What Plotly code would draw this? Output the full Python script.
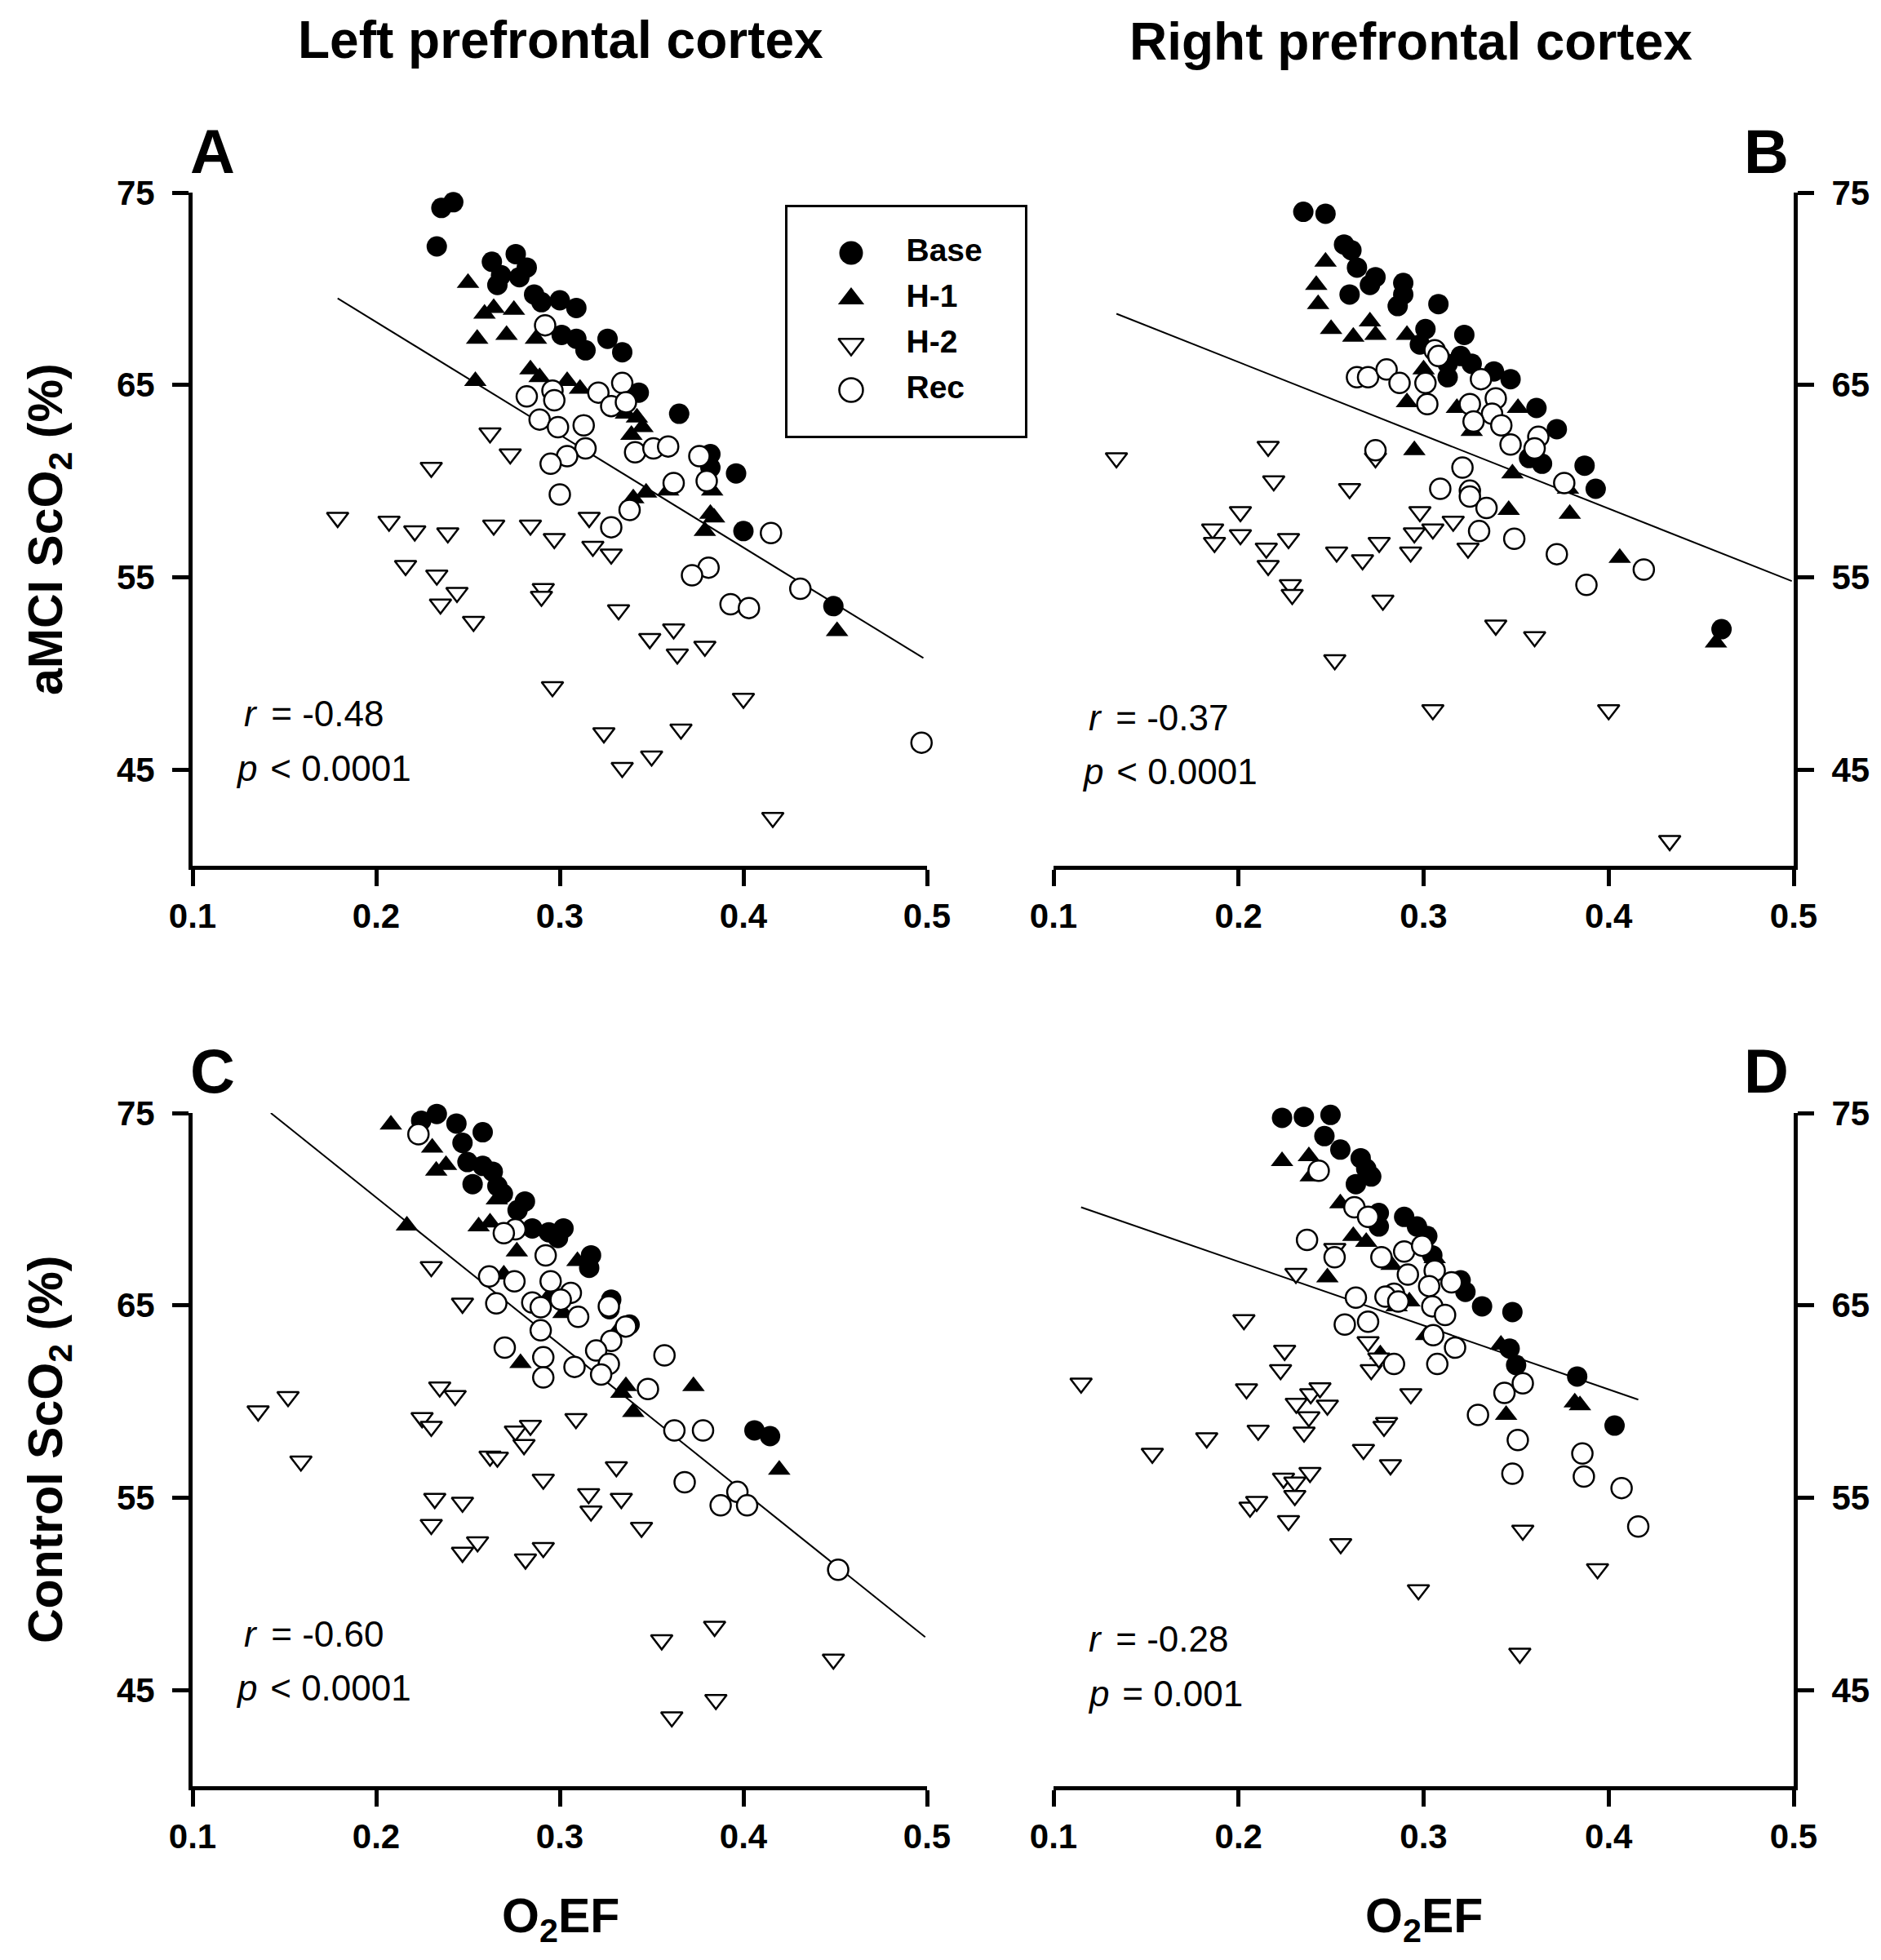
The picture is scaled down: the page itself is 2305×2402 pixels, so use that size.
import plotly.graph_objects as go

# ---------------- data ----------------
SERIES = ["Base", "H-1", "H-2", "Rec"]
X_TICKS = [0.1, 0.2, 0.3, 0.4, 0.5]
X_TICK_LABELS = ["0.1", "0.2", "0.3", "0.4", "0.5"]
Y_TICKS = [45, 55, 65, 75]
Y_TICK_LABELS = ["45", "55", "65", "75"]

# Panel A: aMCI, left prefrontal cortex
A_base_x = [0.233, 0.2355, 0.242, 0.263, 0.276, 0.266, 0.278, 0.268, 0.282, 0.286, 0.290, 0.300, 0.309,
            0.301, 0.309, 0.314, 0.326, 0.334, 0.343, 0.365, 0.382, 0.382, 0.396, 0.400, 0.449]
A_base_y = [72.2, 74.2, 74.5, 71.4, 71.8, 70.2, 70.6, 70.7, 71.1, 69.7, 69.3, 69.4, 69.0,
            67.6, 67.4, 66.8, 67.4, 66.7, 64.6, 63.5, 61.4, 60.7, 60.4, 57.4, 53.5]
A_h1_x = [0.250, 0.255, 0.259, 0.264, 0.271, 0.275, 0.287, 0.284, 0.289, 0.304, 0.311, 0.254,
          0.336, 0.342, 0.345, 0.339, 0.340, 0.347, 0.359, 0.383, 0.382, 0.384, 0.379, 0.451]
A_h1_y = [70.3, 67.4, 68.7, 69.0, 67.6, 68.9, 67.4, 65.8, 65.4, 65.2, 64.8, 65.2,
          63.5, 63.3, 62.8, 62.4, 59.1, 59.4, 59.5, 59.5, 58.3, 58.1, 57.4, 52.2]
A_h2_x = [0.179, 0.207, 0.221, 0.239, 0.264, 0.284, 0.297, 0.316, 0.318, 0.328, 0.262, 0.273, 0.230,
          0.216, 0.233, 0.244, 0.235, 0.253, 0.291, 0.290, 0.296, 0.332, 0.349, 0.362, 0.364, 0.379,
          0.324, 0.334, 0.350, 0.366, 0.400, 0.416]
A_h2_y = [58.1, 57.9, 57.4, 57.3, 57.7, 57.7, 57.0, 58.1, 56.6, 56.2, 62.5, 61.4, 60.7,
          55.6, 55.1, 54.2, 53.6, 52.7, 54.4, 54.0, 49.3, 53.3, 51.8, 52.3, 51.0, 51.4,
          46.9, 45.1, 45.7, 47.1, 48.7, 42.5]
A_rec_x = [0.292, 0.282, 0.296, 0.297, 0.321, 0.328, 0.334, 0.336, 0.289, 0.299, 0.313, 0.314, 0.304,
           0.295, 0.300, 0.341, 0.351, 0.359, 0.376, 0.380, 0.362, 0.338, 0.328, 0.415, 0.381, 0.372,
           0.393, 0.403, 0.431, 0.497]
A_rec_y = [68.1, 64.4, 64.7, 64.2, 64.6, 63.9, 65.1, 64.1, 63.2, 62.8, 62.9, 61.7, 61.3,
           60.9, 59.3, 61.5, 61.7, 61.8, 61.3, 60.0, 59.9, 58.5, 57.6, 57.3, 55.5, 55.1,
           53.6, 53.4, 54.4, 46.4]
A_fit_x = [0.179, 0.498]
A_fit_y = [69.5, 50.8]

# Panel B: aMCI, right prefrontal cortex
B_base_x = [0.235, 0.247, 0.257, 0.261, 0.264, 0.274, 0.271, 0.289, 0.289, 0.260, 0.286, 0.308, 0.301,
            0.322, 0.298, 0.313, 0.320, 0.326, 0.338, 0.347, 0.313, 0.361, 0.372, 0.357, 0.364, 0.387,
            0.393, 0.461]
B_base_y = [74.0, 73.9, 72.3, 72.0, 71.1, 70.6, 70.2, 70.3, 69.7, 69.7, 69.1, 69.2, 67.9,
            67.6, 67.1, 66.1, 66.5, 66.1, 65.7, 65.3, 65.4, 63.8, 62.7, 61.2, 60.9, 60.8,
            59.6, 52.3]
B_h1_x = [0.247, 0.242, 0.243, 0.250, 0.262, 0.271, 0.274, 0.291, 0.300, 0.291, 0.318, 0.326, 0.351,
          0.295, 0.348, 0.346, 0.379, 0.378, 0.406, 0.458]
B_h1_y = [71.4, 70.2, 69.2, 67.9, 67.5, 68.3, 67.6, 67.6, 65.8, 64.1, 63.8, 62.6, 63.8,
          61.6, 60.4, 58.5, 58.3, 59.6, 56.0, 51.6]
B_h2_x = [0.134, 0.216, 0.219, 0.201, 0.186, 0.187, 0.201, 0.215, 0.216, 0.227, 0.228, 0.229, 0.253,
          0.267, 0.276, 0.260, 0.274, 0.278, 0.252, 0.293, 0.295, 0.298, 0.305, 0.316, 0.324, 0.339,
          0.360, 0.305, 0.400, 0.433]
B_h2_y = [61.2, 61.8, 60.0, 58.4, 57.5, 56.8, 57.2, 56.5, 55.6, 57.0, 54.6, 54.1, 56.3,
          55.9, 56.8, 59.6, 61.2, 53.8, 50.7, 56.3, 57.3, 58.4, 57.5, 57.9, 56.5, 52.5,
          51.9, 48.1, 48.1, 41.3]
B_rec_x = [0.264, 0.270, 0.280, 0.287, 0.301, 0.302, 0.306, 0.308, 0.331, 0.339, 0.325, 0.337, 0.327,
           0.342, 0.347, 0.362, 0.360, 0.274, 0.321, 0.309, 0.325, 0.325, 0.334, 0.376, 0.330, 0.349,
           0.372, 0.388, 0.419]
B_rec_y = [65.4, 65.4, 65.8, 65.1, 65.1, 64.0, 66.8, 66.5, 65.3, 64.3, 64.0, 63.5, 63.1,
           62.9, 61.9, 62.3, 61.7, 61.6, 60.7, 59.6, 59.5, 59.2, 58.6, 59.9, 57.4, 57.0,
           56.2, 54.6, 55.4]
B_fit_x = [0.134, 0.499]
B_fit_y = [68.7, 54.8]

# Panel C: control, left prefrontal cortex
C_base_x = [0.2245, 0.233, 0.238, 0.2437, 0.258, 0.247, 0.2497, 0.258, 0.2635, 0.2525, 0.266, 0.269,
            0.281, 0.277, 0.285, 0.294, 0.302, 0.299, 0.317, 0.316, 0.328, 0.327, 0.338, 0.406, 0.4145]
C_base_y = [74.6, 74.95, 75.1, 74.45, 74.0, 73.45, 72.45, 72.25, 71.95, 71.3, 71.2, 70.8,
            70.4, 69.95, 69.0, 68.8, 69.0, 68.5, 67.6, 66.95, 65.3, 64.8, 64.0, 58.5, 58.2]
C_h1_x = [0.208, 0.2305, 0.2327, 0.238, 0.2167, 0.2558, 0.262, 0.2657, 0.2766, 0.2695, 0.2786, 0.3096,
          0.3316, 0.336, 0.3335, 0.340, 0.3728, 0.4195, 0.302, 0.294]
C_h1_y = [74.4, 73.2, 72.0, 72.3, 69.15, 69.1, 69.3, 70.5, 67.8, 66.6, 62.0, 67.3,
          63.7, 60.8, 60.45, 59.45, 60.8, 56.45, 64.6, 65.45]
C_h2_x = [0.1357, 0.152, 0.159, 0.230, 0.247, 0.2346, 0.243, 0.225, 0.230, 0.2758, 0.284, 0.2805,
          0.262, 0.266, 0.3088, 0.291, 0.3308, 0.3157, 0.317, 0.3335, 0.3445, 0.2319, 0.247, 0.230,
          0.247, 0.2552, 0.2813, 0.291, 0.3555, 0.3843, 0.361, 0.385, 0.449]
C_h2_y = [59.5, 60.25, 56.9, 67.0, 65.1, 60.75, 60.3, 59.15, 58.7, 58.45, 58.75, 57.75,
          57.15, 57.1, 59.1, 55.95, 56.6, 55.2, 54.3, 54.95, 53.45, 54.95, 54.75, 53.6,
          52.15, 52.7, 51.8, 52.4, 47.6, 48.3, 43.6, 44.5, 46.6]
C_rec_x = [0.223, 0.2758, 0.2695, 0.2923, 0.2615, 0.2753, 0.295, 0.306, 0.3005, 0.2654, 0.285, 0.2896,
           0.310, 0.3267, 0.336, 0.328, 0.2896, 0.270, 0.291, 0.291, 0.308, 0.3198, 0.3267, 0.3225,
           0.357, 0.348, 0.3624, 0.378, 0.368, 0.3876, 0.3967, 0.402, 0.4516]
C_rec_y = [73.9, 68.95, 68.75, 67.6, 66.5, 66.25, 66.25, 65.65, 65.3, 65.1, 65.15, 64.9,
           64.4, 64.95, 63.9, 63.15, 63.7, 62.8, 62.3, 61.25, 61.8, 62.65, 61.95, 61.4,
           62.4, 60.65, 58.5, 58.5, 55.8, 54.6, 55.3, 54.6, 51.25]
C_fit_x = [0.1426, 0.499]
C_fit_y = [75.0, 47.75]

# Panel D: control, right prefrontal cortex
D_base_x = [0.2235, 0.2353, 0.2497, 0.2464, 0.255, 0.266, 0.269, 0.2717, 0.2634, 0.2758, 0.2758, 0.2895,
            0.2964, 0.302, 0.3047, 0.320, 0.3226, 0.3316, 0.348, 0.3465, 0.350, 0.383, 0.4032]
D_base_y = [74.75, 74.8, 74.9, 73.8, 73.1, 72.65, 72.1, 71.7, 71.3, 69.8, 69.1, 69.6,
            69.1, 68.6, 67.6, 66.3, 65.7, 64.95, 64.65, 62.75, 61.9, 61.3, 58.75]
D_h1_x = [0.2235, 0.238, 0.239, 0.255, 0.262, 0.269, 0.248, 0.2827, 0.2854, 0.2923, 0.3014, 0.2766,
          0.306, 0.3418, 0.3446, 0.3817, 0.3845]
D_h1_y = [72.5, 72.75, 71.7, 70.3, 68.6, 68.3, 66.45, 67.1, 64.95, 65.2, 63.45, 62.45,
          67.45, 62.95, 59.3, 59.95, 59.8]
D_h2_x = [0.1149, 0.1534, 0.1828, 0.2029, 0.2043, 0.2106, 0.2249, 0.2227, 0.231, 0.2312, 0.239, 0.244,
          0.248, 0.238, 0.2354, 0.2062, 0.2098, 0.2243, 0.2304, 0.2386, 0.2304, 0.227, 0.2552, 0.2675,
          0.270, 0.2717, 0.2758, 0.280, 0.2786, 0.2821, 0.2931, 0.2972, 0.3536, 0.352, 0.394, 0.252]
D_h2_y = [60.95, 57.3, 58.1, 64.25, 60.65, 58.5, 62.65, 61.65, 66.65, 59.9, 60.4, 60.7,
          59.8, 59.2, 58.4, 54.5, 54.8, 56.0, 55.8, 56.3, 55.1, 53.8, 52.6, 57.5,
          63.1, 61.65, 62.25, 58.9, 58.7, 56.7, 60.4, 50.2, 53.3, 46.9, 51.3, 67.95]
D_rec_x = [0.2433, 0.237, 0.2519, 0.2626, 0.270, 0.2772, 0.2895, 0.2992, 0.2915, 0.306, 0.303, 0.3151,
           0.284, 0.2794, 0.2863, 0.2634, 0.3047, 0.3116, 0.2574, 0.270, 0.3052, 0.317, 0.284, 0.3074,
           0.3437, 0.3536, 0.3294, 0.3509, 0.348, 0.3858, 0.3866, 0.407, 0.416]
D_rec_y = [72.0, 68.4, 67.5, 70.1, 69.6, 67.5, 67.8, 68.1, 66.6, 66.8, 66.0, 66.2,
           65.6, 65.45, 65.2, 65.4, 64.95, 64.5, 64.0, 64.15, 63.45, 62.8, 61.95, 61.95,
           60.45, 60.95, 59.3, 58.0, 56.25, 57.3, 56.1, 55.5, 53.5]
D_fit_x = [0.1149, 0.416]
D_fit_y = [70.1, 60.1]

# statistics: (italic symbol, rest of the text)
STATS = {
    "A": [("r", "= -0.48"), ("p", "< 0.0001")],
    "B": [("r", "= -0.37"), ("p", "< 0.0001")],
    "C": [("r", "= -0.60"), ("p", "< 0.0001")],
    "D": [("r", "= -0.28"), ("p", "= 0.001")],
}

# ---------------- style ----------------
PAGE_W, PAGE_H = 2305, 2402
BODY_MARGIN = 8                      # default HTML body margin around the plot div
W, H = PAGE_W - 2 * BODY_MARGIN, PAGE_H - 2 * BODY_MARGIN
FONT = "Liberation Sans, Arial, Helvetica, sans-serif"
MARKERS = {
    "Base": dict(symbol="circle", size=25, color="black", line=dict(width=0)),
    "H-1": dict(symbol="triangle-up", size=24, color="black", line=dict(width=0)),
    "H-2": dict(symbol="triangle-down", size=23, color="white", line=dict(width=2.5, color="black")),
    "Rec": dict(symbol="circle", size=25, color="white", line=dict(width=2.5, color="black")),
}


def px_x(p):
    return (p - BODY_MARGIN) / W


def px_y(p):
    return 1 - (p - BODY_MARGIN) / H


panels = {
    "A": dict(xa="x", ya="y", xdom=(236, 1136), ydom=(236, 1061), side="left",
              data=[(A_base_x, A_base_y), (A_h1_x, A_h1_y), (A_h2_x, A_h2_y), (A_rec_x, A_rec_y)],
              fit=(A_fit_x, A_fit_y), stat_x=(0.1365, 0.1359), stat_y=(47.9, 45.05)),
    "B": dict(xa="x2", ya="y2", xdom=(1291, 2198), ydom=(236, 1061), side="right",
              data=[(B_base_x, B_base_y), (B_h1_x, B_h1_y), (B_h2_x, B_h2_y), (B_rec_x, B_rec_y)],
              fit=(B_fit_x, B_fit_y), stat_x=(0.1275, 0.1280), stat_y=(47.7, 44.9)),
    "C": dict(xa="x3", ya="y3", xdom=(236, 1136), ydom=(1364, 2189), side="left",
              data=[(C_base_x, C_base_y), (C_h1_x, C_h1_y), (C_h2_x, C_h2_y), (C_rec_x, C_rec_y)],
              fit=(C_fit_x, C_fit_y), stat_x=(0.1365, 0.1359), stat_y=(47.9, 45.1)),
    "D": dict(xa="x4", ya="y4", xdom=(1291, 2198), ydom=(1364, 2189), side="right",
              data=[(D_base_x, D_base_y), (D_h1_x, D_h1_y), (D_h2_x, D_h2_y), (D_rec_x, D_rec_y)],
              fit=(D_fit_x, D_fit_y), stat_x=(0.1275, 0.1310), stat_y=(47.65, 44.8)),
}

fig = go.Figure()
annotations = []
layout = {}
stat_font = dict(family=FONT, size=44, color="black")

for key, p in panels.items():
    fx, fy = p["fit"]
    fig.add_trace(go.Scatter(x=fx, y=fy, mode="lines", line=dict(color="black", width=2),
                             xaxis=p["xa"], yaxis=p["ya"], showlegend=False, hoverinfo="skip"))
    for name, (xs, ys) in zip(SERIES, p["data"]):
        fig.add_trace(go.Scatter(x=xs, y=ys, mode="markers", name=name, marker=MARKERS[name],
                                 xaxis=p["xa"], yaxis=p["ya"], showlegend=False, cliponaxis=False))
    xname = "xaxis" + p["xa"][1:]
    yname = "yaxis" + p["ya"][1:]
    common = dict(showline=True, linewidth=5, linecolor="black", ticks="outside", ticklen=20,
                  tickwidth=5, tickcolor="black", showgrid=False, zeroline=False, automargin=False,
                  tickfont=dict(family=FONT, size=42, color="black", weight="bold"))
    layout[xname] = dict(domain=[px_x(p["xdom"][0]), px_x(p["xdom"][1])], anchor=p["ya"],
                         range=[0.1, 0.5], tickmode="array", tickvals=X_TICKS, ticktext=X_TICK_LABELS,
                         ticklabelstandoff=1, **common)
    layout[yname] = dict(domain=[px_y(p["ydom"][1]), px_y(p["ydom"][0])], anchor=p["xa"],
                         range=[40, 75], tickmode="array", tickvals=Y_TICKS, ticktext=Y_TICK_LABELS,
                         side=p["side"], ticklabelstandoff=13, **common)
    for (sym, rest), sx, sy in zip(STATS[key], p["stat_x"], p["stat_y"]):
        annotations.append(dict(text=sym, x=sx, y=sy, xref=p["xa"], yref=p["ya"], xanchor="right",
                                yanchor="middle", showarrow=False, font={**stat_font, "style": "italic"}))
        annotations.append(dict(text="\u00a0" + rest, x=sx, y=sy, xref=p["xa"], yref=p["ya"],
                                xanchor="left", yanchor="middle", showarrow=False, font=stat_font))

# legend drawn in its own small axis box inside panel A
LEG_MARKER_X = 0.268
LEG_TEXT_X = 0.50
for name in SERIES:
    fig.add_trace(go.Scatter(x=[LEG_MARKER_X], y=[name], mode="markers",
                             marker={**MARKERS[name], "size": MARKERS[name]["size"] + 4},
                             xaxis="x5", yaxis="y5", showlegend=False, hoverinfo="skip"))
fig.add_trace(go.Scatter(x=[LEG_TEXT_X] * len(SERIES), y=SERIES, mode="text", text=SERIES,
                         textposition="middle right",
                         textfont=dict(family=FONT, size=39, color="black", weight="bold"),
                         xaxis="x5", yaxis="y5", showlegend=False, hoverinfo="skip"))
layout["xaxis5"] = dict(domain=[px_x(965), px_x(1256)], anchor="y5", range=[0, 1], showline=True,
                        mirror=True, linewidth=3, linecolor="black", showticklabels=False, ticks="",
                        showgrid=False, zeroline=False, automargin=False)
layout["yaxis5"] = dict(domain=[px_y(534), px_y(254)], anchor="x5", type="category",
                        categoryarray=SERIES, range=[4.0, -1.0], showline=True, mirror=True,
                        linewidth=3, linecolor="black", showticklabels=False, ticks="",
                        showgrid=False, zeroline=False, automargin=False)

# titles and panel letters
title_font = dict(family=FONT, size=64, color="black", weight="bold")
for text, x, y in [("Left prefrontal cortex", 687, 49), ("Right prefrontal cortex", 1729, 51)]:
    annotations.append(dict(text=text, x=px_x(x), y=px_y(y), xref="paper", yref="paper",
                            xanchor="center", yanchor="middle", showarrow=False, font=title_font))
letter_font = dict(family=FONT, size=76, color="black", weight="bold")
for text, x, y in [("A", 260, 185), ("B", 2164, 185), ("C", 260, 1312), ("D", 2164, 1312)]:
    annotations.append(dict(text=text, x=px_x(x), y=px_y(y), xref="paper", yref="paper",
                            xanchor="center", yanchor="middle", showarrow=False, font=letter_font))
axis_font = dict(family=FONT, size=59, color="black", weight="bold")
for text, y in [("aMCI ScO<sub>2</sub> (%)", 649), ("Control ScO<sub>2</sub> (%)", 1777)]:
    annotations.append(dict(text=text, x=px_x(60), y=px_y(y), xref="paper", yref="paper",
                            xanchor="center", yanchor="middle", textangle=-90, showarrow=False,
                            font=axis_font))
for x in (687, 1745):
    annotations.append(dict(text="O<sub>2</sub>EF", x=px_x(x), y=px_y(2352), xref="paper", yref="paper",
                            xanchor="center", yanchor="middle", showarrow=False, font=axis_font))

fig.update_layout(template="none", width=W, height=H, margin=dict(l=0, r=0, t=0, b=0, autoexpand=False),
                  paper_bgcolor="white", plot_bgcolor="white", showlegend=False,
                  annotations=annotations, **layout)

fig.write_html("out.html")
